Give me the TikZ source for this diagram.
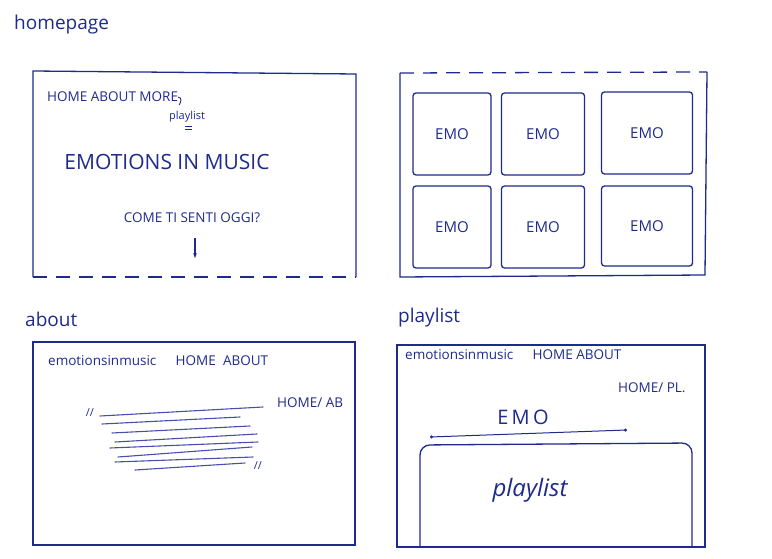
\documentclass[tikz,border=0pt]{standalone}
\usepackage{fontspec}
\newfontfamily\handfont{Open Sans}
\usetikzlibrary{arrows.meta, positioning}
\definecolor{ink}{RGB}{30,42,140}
\definecolor{pen}{RGB}{70,80,170}

\begin{document}
\begin{tikzpicture}[
    x=1pt, y=-1pt,
    frame/.style={draw=ink, line width=1.3pt},
    dashframe/.style={frame, dash pattern=on 14pt off 9pt},
    tile/.style={
      draw=ink, line width=1.3pt, rounded corners=3pt,
      minimum height=82pt, inner sep=0pt,
      text=ink, font=\handfont\fontsize{15}{15}\selectfont
    },
    pagettl/.style={text=ink, inner sep=0pt, anchor=west, font=\handfont\fontsize{19}{19}\selectfont},
    navtxt/.style={text=ink, inner sep=0pt, anchor=west, font=\handfont\fontsize{13.5}{13.5}\selectfont},
    bigtxt/.style={text=ink, inner sep=0pt, font=\handfont\fontsize{21}{21}\selectfont},
    smalltxt/.style={text=ink, inner sep=0pt, font=\handfont\fontsize{11}{11}\selectfont},
    textline/.style={draw=pen, line width=1.1pt, line cap=round},
    arr/.style={-{Stealth[length=5pt]}, draw=ink, line width=1.2pt},
  ]
  \useasboundingbox (0,0) rectangle (772,559);

  % Homepage, first screen (dashed bottom: it scrolls on)
  \node[pagettl] (homettl) at (14,25) {homepage};
  \draw[frame] (33,277) -- (33,71) -- (356,74) -- (356,277);
  \draw[dashframe] (33,277) -- (356,277);
  \node[navtxt] (homenav) at (47,97) {HOME ABOUT MORE};
  \node[smalltxt, anchor=west] (more) at (169,117) {playlist};
  \draw[ink, line width=0.9pt] (homenav.east) .. controls +(4,1) and +(2,-4) .. ++(1,8);
  \draw[ink, line width=0.8pt] (185,126) -- (192,126) (185,129) -- (192,129);
  \node[bigtxt] (hometitle) at (167,162) {EMOTIONS IN MUSIC};
  \node[navtxt, anchor=center] (question) at (192,218) {COME TI SENTI OGGI?};
  \coordinate (scrolltop) at (195,238);
  \coordinate (scrolldown) at (195,258);
  \draw[arr] (scrolltop) -- (scrolldown);

  % Homepage, second screen with the emotion tiles
  \draw[dashframe] (400,73) -- (707,72);
  \draw[frame] (400,73) -- (400,277) -- (705,275) -- (707,72);
  \node[tile, minimum width=78pt] (emoA) at (452,134) {EMO};
  \node[tile, minimum width=83pt] (emoB) at (543,134) {EMO};
  \node[tile, minimum width=91pt] (emoC) at (647,133) {EMO};
  \node[tile, minimum width=78pt] (emoD) at (452,227) {EMO};
  \node[tile, minimum width=83pt] (emoE) at (543,227) {EMO};
  \node[tile, minimum width=91pt, minimum height=80pt] (emoF) at (647,226) {EMO};

  % About page
  \node[pagettl] (aboutttl) at (25,319) {about};
  \draw[frame] (33,342) rectangle (355,545);
  \node[navtxt] (aboutnav) at (48,361) {emotionsinmusic\quad\, HOME\; ABOUT};
  \node[navtxt] (aboutpath) at (277,403) {HOME/ AB};
  \node[smalltxt] (quoteopen) at (90,413) {//};
  \node[smalltxt] (quoteclose) at (258,466) {//};
  \draw[textline] (100,416) -- (263,407);
  \draw[textline] (102,424) -- (240,417);
  \draw[textline] (112,433) -- (250,426);
  \draw[textline] (115,442) -- (257,434);
  \draw[textline] (110,448) -- (258,442);
  \draw[textline] (118,457) -- (252,447);
  \draw[textline] (115,462) -- (253,457);
  \draw[textline] (135,470) -- (245,463);

  % Playlist page
  \node[pagettl] (playttl) at (398,318) {playlist};
  \draw[frame] (397,345) rectangle (705,547);
  \node[navtxt] (playnav) at (405,355) {emotionsinmusic\quad\, HOME ABOUT};
  \node[navtxt] (playpath) at (618,388) {HOME/ PL.};
  \node[bigtxt, font=\handfont\fontsize{20}{20}\selectfont] (playemo) at (523,417) {E\,M\,O};
  \draw[ink, line width=1pt, {Circle[length=3pt]}-{Circle[length=3pt]}] (430,437) -- (627,430);
  \draw[frame, rounded corners=10pt] (420,547) -- (420,445) -- (692,443) -- (692,547);
  \node[bigtxt, font=\handfont\itshape\fontsize{24}{24}\selectfont] (playlist) at (530,490) {playlist};

\end{tikzpicture}
\end{document}
